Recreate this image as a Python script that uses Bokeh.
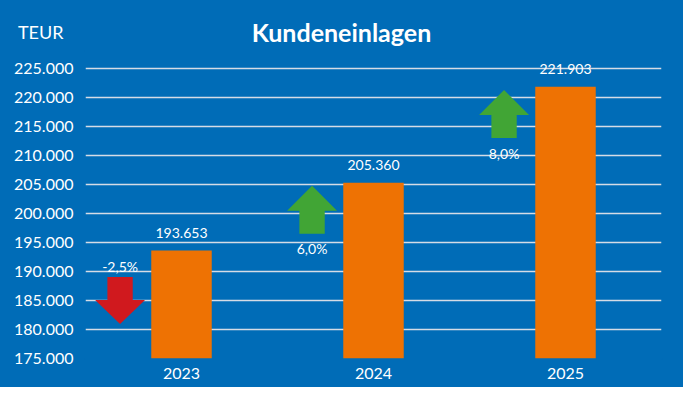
from bokeh.plotting import figure
from bokeh.models import Range1d, FixedTicker, ColumnDataSource
from bokeh.layouts import column
from bokeh.embed import file_html
from bokeh.resources import INLINE
from bokeh.core.properties import value

# ---- data ----
years = ["2023", "2024", "2025"]
deposits = [193653, 205360, 221903]
deposit_labels = ["193.653", "205.360", "221.903"]
change_labels = ["-2,5%", "6,0%", "8,0%"]
change_dir = [-1, 1, 1]
y_ticks = [175000, 180000, 185000, 190000, 195000, 200000, 205000, 210000, 215000, 220000, 225000]
y_tick_labels = ["175.000", "180.000", "185.000", "190.000", "195.000", "200.000",
                 "205.000", "210.000", "215.000", "220.000", "225.000"]
unit_label = "TEUR"
title_text = "Kundeneinlagen"

BG = "#006CB7"
ORANGE = "#EE7203"
GREEN = "#41A535"
RED = "#D0191E"
FONT = "Lato"
W = 683
HEAD_H = 51
H = 387
LEFT = 85
RIGHT = 22

# ---- header strip (title + unit) ----
head = figure(width=W, height=HEAD_H, output_backend="svg", toolbar_location=None,
              x_range=Range1d(LEFT, W - RIGHT), y_range=Range1d(HEAD_H, 0),
              x_axis_type=None,
              min_border_left=LEFT, min_border_right=RIGHT,
              min_border_top=0, min_border_bottom=0)
head.background_fill_color = BG
head.border_fill_color = BG
head.outline_line_color = BG
head.outline_line_width = 3
head.grid.visible = False
head.yaxis.ticker = FixedTicker(ticks=[31])
head.yaxis.major_label_overrides = {31: unit_label}
head.yaxis.axis_line_color = None
head.yaxis.major_tick_line_color = None
head.yaxis.minor_tick_line_color = None
head.yaxis.major_tick_out = 0
head.yaxis.major_tick_in = 0
head.yaxis.major_label_standoff = 22
head.yaxis.major_label_text_color = "white"
head.yaxis.major_label_text_font = FONT
head.yaxis.major_label_text_font_size = "18px"
head.text(x=[W / 2 - 0.5], y=[31], text=[title_text], text_color="white",
          text_font=value(FONT), text_font_style="bold", text_font_size="25px",
          text_align="center", text_baseline="middle")

# ---- main chart ----
p = figure(width=W, height=H - HEAD_H, output_backend="svg", toolbar_location=None,
           x_range=Range1d(-0.5, 2.5), y_range=Range1d(175000, 228000),
           min_border_left=LEFT, min_border_right=RIGHT, min_border_top=0, min_border_bottom=29)
p.background_fill_color = BG
p.border_fill_color = BG
p.outline_line_color = BG
p.outline_line_width = 3

xs = list(range(len(years)))
src = ColumnDataSource(dict(x=xs, top=deposits))
p.vbar(x="x", top="top", bottom=175000, width=0.315, source=src,
       fill_color=ORANGE, line_color=None)

# value labels above bars
p.text(x=xs, y=[v + 3050 for v in deposits], text=deposit_labels,
       text_color="white", text_font=value(FONT), text_font_size="14px",
       text_align="center", text_baseline="middle")

# arrows
dx = -0.32
head_hw = 0.13
shaft_hw = 0.066
arrow_xs, arrow_ys, arrow_colors = [], [], []
lab_x, lab_y = [], []
for i, (v, d) in enumerate(zip(deposits, change_dir)):
    cx = i + dx
    if d > 0:
        tip = v - 555
        base = tip - 4300
        bottom = tip - 8280
        arrow_xs.append([cx, cx + head_hw, cx + shaft_hw, cx + shaft_hw,
                         cx - shaft_hw, cx - shaft_hw, cx - head_hw])
        arrow_ys.append([tip, base, base, bottom, bottom, base, base])
        arrow_colors.append(GREEN)
        lab_x.append(cx)
        lab_y.append(bottom - 2600)
    else:
        top = v - 4580
        base = top - 3970
        tip = top - 8110
        arrow_xs.append([cx - shaft_hw, cx + shaft_hw, cx + shaft_hw, cx + head_hw,
                         cx, cx - head_hw, cx - shaft_hw])
        arrow_ys.append([top, top, base, base, tip, base, base])
        arrow_colors.append(RED)
        lab_x.append(cx)
        lab_y.append(top + 1820)

p.patches(xs=arrow_xs, ys=arrow_ys, fill_color=arrow_colors, line_color=None)
p.text(x=lab_x, y=lab_y, text=change_labels, text_color="white",
       text_font=value(FONT), text_font_size="14px",
       text_align="center", text_baseline="middle")

# axes
p.xaxis.ticker = FixedTicker(ticks=xs)
p.xaxis.major_label_overrides = {i: y for i, y in enumerate(years)}
p.yaxis.ticker = FixedTicker(ticks=y_ticks)
p.yaxis.major_label_overrides = {t: l for t, l in zip(y_ticks, y_tick_labels)}
for ax in (p.xaxis[0], p.yaxis[0]):
    ax.axis_line_color = None
    ax.major_tick_line_color = None
    ax.minor_tick_line_color = None
    ax.major_tick_out = 0
    ax.major_tick_in = 0
    ax.major_label_text_color = "white"
    ax.major_label_text_font = FONT
    ax.major_label_text_font_size = "16px"
p.yaxis.major_label_standoff = 12
p.xaxis.major_label_standoff = 9

p.xgrid.grid_line_color = None
p.ygrid.ticker = FixedTicker(ticks=y_ticks)
p.ygrid.grid_line_color = "#D5DCE6"
p.ygrid.grid_line_width = 1.5

layout = column(head, p, spacing=0, styles={"background-color": BG})
open("out.html", "w").write(file_html(layout, INLINE))
